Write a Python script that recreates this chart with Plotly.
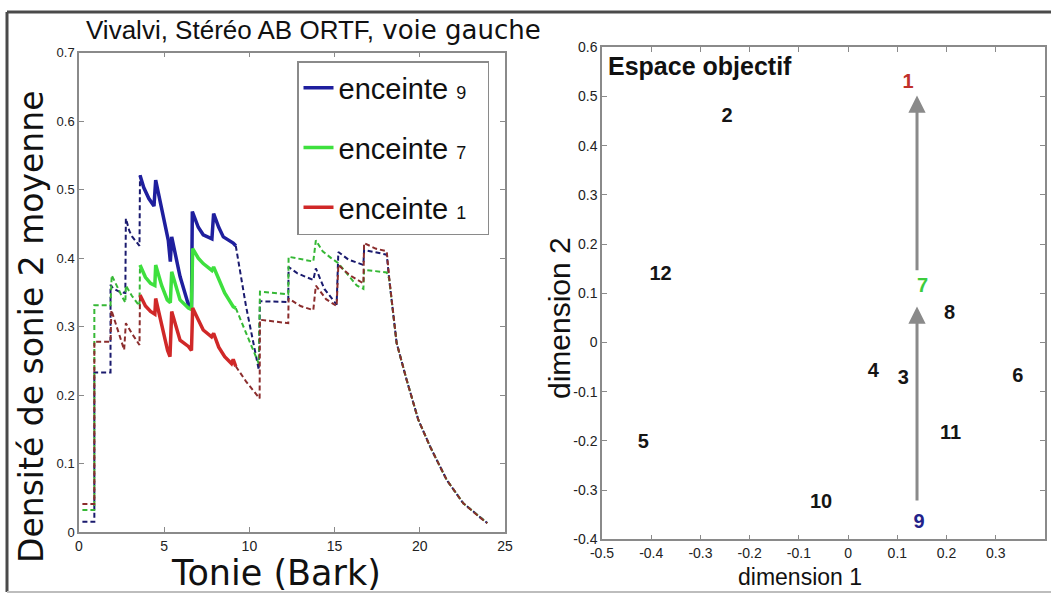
import plotly.graph_objects as go

W, H = 1051, 594

# ---------------- data: left panel (loudness density per Bark) ----------------
SOLID_START = 3.58
SOLID_END = 9.2

blue_x = [0.2, 0.9, 0.9, 1.85, 1.85, 2.0, 2.35, 2.72, 2.75, 2.95, 3.1, 3.3, 3.55, 3.58,
          3.8, 4.1, 4.4, 4.5, 4.85, 5.24, 5.36, 5.44, 5.93, 6.42, 6.6, 6.65, 7.0, 7.29, 7.8, 7.9,
          8.2, 8.47, 9.05, 9.2,
          9.8, 10.55, 10.62, 12.28, 12.3, 12.8, 13.75, 13.9, 14.4, 15.12, 15.22, 15.8, 16.69,
          16.73, 17.4, 18.06, 18.2, 18.64, 19.23, 19.91, 20.6, 21.58, 22.55, 23.83, 23.96]
blue_y = [0.015, 0.015, 0.233, 0.233, 0.361, 0.356, 0.351, 0.349, 0.458, 0.44, 0.432, 0.425, 0.418, 0.521,
          0.503, 0.487, 0.476, 0.514, 0.47, 0.426, 0.395, 0.431, 0.373, 0.332, 0.326, 0.468, 0.445, 0.434, 0.428, 0.465,
          0.445, 0.431, 0.422, 0.418,
          0.33, 0.237, 0.337, 0.336, 0.387, 0.378, 0.368, 0.385, 0.355, 0.332, 0.409, 0.398, 0.39,
          0.412, 0.408, 0.405, 0.37, 0.276, 0.222, 0.164, 0.125, 0.076, 0.042, 0.015, 0.013]

green_x = [0.2, 0.9, 0.9, 1.85, 1.92, 2.2, 2.5, 2.72, 2.75, 3.1, 3.55, 3.58,
           3.9, 4.2, 4.45, 4.5, 4.85, 5.18, 5.36, 5.44, 5.93, 6.42, 6.6, 6.67, 7.0, 7.29, 7.8, 7.9,
           8.2, 8.55, 9.05, 9.2,
           9.8, 10.55, 10.62, 12.28, 12.3, 13.75, 13.9, 14.3, 14.8, 15.2, 15.7, 16.3, 16.69, 16.73,
           17.4, 18.06, 18.2, 18.64, 19.23, 19.91, 20.6, 21.58, 22.55, 23.83, 23.96]
green_y = [0.032, 0.032, 0.331, 0.331, 0.375, 0.36, 0.345, 0.335, 0.36, 0.345, 0.33, 0.39,
           0.372, 0.363, 0.36, 0.39, 0.36, 0.339, 0.335, 0.38, 0.339, 0.327, 0.325, 0.414, 0.40, 0.392, 0.382, 0.387,
           0.37, 0.349, 0.329, 0.327,
           0.29, 0.246, 0.351, 0.347, 0.402, 0.395, 0.426, 0.41, 0.40, 0.393, 0.378, 0.36, 0.355, 0.383,
           0.381, 0.379, 0.37, 0.276, 0.222, 0.164, 0.125, 0.076, 0.042, 0.015, 0.013]

red_x = [0.2, 0.9, 0.9, 1.85, 1.9, 2.2, 2.65, 2.75, 3.1, 3.55, 3.58,
         3.9, 4.2, 4.45, 4.5, 4.85, 5.2, 5.34, 5.44, 5.93, 6.42, 6.6, 6.67, 7.0, 7.29, 7.78, 7.9,
         8.2, 8.55, 8.95, 9.05, 9.2,
         9.8, 10.6, 10.62, 12.28, 12.3, 13.0, 13.75, 13.9, 14.5, 15.12, 15.22, 15.9, 16.69, 16.73,
         17.4, 18.06, 18.2, 18.64, 19.23, 19.91, 20.6, 21.58, 22.55, 23.83, 23.96]
red_y = [0.041, 0.041, 0.278, 0.278, 0.324, 0.30, 0.266, 0.305, 0.29, 0.273, 0.346,
         0.33, 0.322, 0.318, 0.341, 0.3, 0.265, 0.256, 0.322, 0.28, 0.271, 0.265, 0.327, 0.31, 0.295, 0.285, 0.29,
         0.27, 0.256, 0.246, 0.252, 0.242,
         0.22, 0.195, 0.31, 0.305, 0.341, 0.33, 0.324, 0.36, 0.34, 0.33, 0.39, 0.375, 0.363, 0.422,
         0.414, 0.41, 0.372, 0.276, 0.222, 0.164, 0.125, 0.076, 0.042, 0.015, 0.013]

series_names = ["9", "7", "1"]
left_xticks = [0, 5, 10, 15, 20, 25]
left_yticks = [0, 0.1, 0.2, 0.3, 0.4, 0.5, 0.6, 0.7]

# ---------------- data: right panel (objective space) ----------------
pt_labels = ["1", "2", "12", "7", "8", "4", "3", "6", "11", "5", "10", "9"]
pt_x = [0.122, -0.246, -0.381, 0.151, 0.206, 0.051, 0.112, 0.345, 0.208, -0.416, -0.055, 0.144]
pt_y = [0.528, 0.458, 0.137, 0.112, 0.058, -0.059, -0.075, -0.071, -0.186, -0.205, -0.327, -0.367]
arrow_x = [0.14, 0.14]
arrow_y_from = [-0.324, 0.144]
arrow_y_to = [0.073, 0.502]
right_xticks = [-0.5, -0.4, -0.3, -0.2, -0.1, 0, 0.1, 0.2, 0.3, 0.4]
right_yticks = [-0.4, -0.3, -0.2, -0.1, 0, 0.1, 0.2, 0.3, 0.4, 0.5, 0.6]

# ---------------- styling ----------------
SANS = "Liberation Sans, Arial, sans-serif"
WIDE = "DejaVu Sans, Verdana, sans-serif"
solid_cols = ["#1f1f9e", "#3ee03e", "#d02828"]
dash_cols = ["#1a1a6e", "#36b836", "#8b2d2d"]
pt_cols = {"1": "#c0302a", "7": "#3ccc3c", "9": "#22228a"}


def px_x(p):
    return p / W


def px_y(p):
    return 1 - p / H


def split(xs, ys):
    pre = [(x, y) for x, y in zip(xs, ys) if x <= SOLID_START]
    mid = [(x, y) for x, y in zip(xs, ys) if SOLID_START <= x <= SOLID_END]
    post = [(x, y) for x, y in zip(xs, ys) if x >= SOLID_END]
    return pre, mid, post


fig = go.Figure()

all_series = [(blue_x, blue_y), (green_x, green_y), (red_x, red_y)]
for i, (xs, ys) in enumerate(all_series):
    pre, mid, post = split(xs, ys)
    for seg in (pre, post):
        fig.add_trace(go.Scatter(
            x=[p[0] for p in seg], y=[p[1] for p in seg], mode="lines",
            line=dict(color=dash_cols[i], width=2, dash="5px,3px"),
            showlegend=False, legendgroup="g" + series_names[i], hoverinfo="skip",
            xaxis="x", yaxis="y"))
for i, (xs, ys) in enumerate(all_series):
    pre, mid, post = split(xs, ys)
    fig.add_trace(go.Scatter(
        x=[p[0] for p in mid], y=[p[1] for p in mid], mode="lines",
        line=dict(color=solid_cols[i], width=3.5),
        name='enceinte <span style="font-size:18px">' + series_names[i] + "</span>\u00a0\u00a0",
        legendgroup="g" + series_names[i], showlegend=True,
        xaxis="x", yaxis="y"))

# right panel text labels
fig.add_trace(go.Scatter(
    x=pt_x, y=pt_y, text=pt_labels, mode="text",
    textfont=dict(family=SANS, size=20, color=[pt_cols.get(t, "#151515") for t in pt_labels],
                  weight="bold"),
    showlegend=False, hoverinfo="skip", xaxis="x2", yaxis="y2"))

annotations = []
for xa, y0, y1 in zip(arrow_x, arrow_y_from, arrow_y_to):
    annotations.append(dict(
        x=xa, y=y1, ax=xa, ay=y0, xref="x2", yref="y2", axref="x2", ayref="y2",
        text="", showarrow=True, arrowhead=2, arrowsize=1.15, arrowwidth=3,
        arrowcolor="#8a8a8a", standoff=0, startstandoff=0))

annotations += [
    dict(text="Espace objectif", x=-0.492, y=0.562, xref="x2", yref="y2",
         xanchor="left", yanchor="middle", showarrow=False,
         font=dict(family=SANS, size=25, color="#111", weight="bold")),
    dict(text='Vivalvi, Stéréo AB ORTF,<span style="font-family:DejaVu Sans, sans-serif"> voie gauche</span>',
         x=px_x(313), y=px_y(30), xref="paper", yref="paper", xanchor="center", yanchor="middle",
         showarrow=False, font=dict(family=SANS, size=26, color="#111")),
    dict(text="Densité de sonie 2 moyenne", x=px_x(31), y=px_y(327), xref="paper", yref="paper",
         textangle=-90, xanchor="center", yanchor="middle", showarrow=False,
         font=dict(family=WIDE, size=33, color="#111")),
    dict(text="Tonie (Bark)", x=px_x(276), y=px_y(573), xref="paper", yref="paper",
         xanchor="center", yanchor="middle", showarrow=False,
         font=dict(family=WIDE, size=35, color="#111")),
    dict(text="dimension 2", x=px_x(559), y=px_y(318), xref="paper", yref="paper",
         textangle=-90, xanchor="center", yanchor="middle", showarrow=False,
         font=dict(family=SANS, size=30, color="#111")),
    dict(text="dimension 1", x=px_x(800), y=px_y(577), xref="paper", yref="paper",
         xanchor="center", yanchor="middle", showarrow=False,
         font=dict(family=SANS, size=23, color="#111")),
]

axis_common = dict(showgrid=False, zeroline=False, ticks="inside", ticklen=5, tickwidth=1,
                   tickcolor="#8a8a8a", showline=True, linecolor="#8a8a8a", linewidth=1.5,
                   mirror="ticks")

fig.update_layout(
    width=W, height=H,
    margin=dict(l=0, r=0, t=0, b=0, autoexpand=False),
    paper_bgcolor="white", plot_bgcolor="white",
    xaxis=dict(domain=[px_x(79), px_x(505)], range=[0, 25], tickvals=left_xticks,
               ticktext=[str(v) for v in left_xticks], anchor="y",
               tickfont=dict(family=SANS, size=14, color="#222"), **axis_common),
    yaxis=dict(domain=[px_y(532), px_y(52.7)], range=[0, 0.7], tickvals=left_yticks,
               ticktext=[("%g" % v) for v in left_yticks], anchor="x",
               tickfont=dict(family=SANS, size=13, color="#222"), **axis_common),
    xaxis2=dict(domain=[px_x(602), px_x(1045)], range=[-0.5, 0.4], tickvals=right_xticks,
                ticktext=[("%g" % v) for v in right_xticks], anchor="y2",
                tickfont=dict(family=SANS, size=14, color="#222"), **axis_common),
    yaxis2=dict(domain=[px_y(539.3), px_y(47.3)], range=[-0.4, 0.6], tickvals=right_yticks,
                ticktext=[("%g" % v) for v in right_yticks], anchor="x2",
                tickfont=dict(family=SANS, size=14, color="#222"), **axis_common),
    legend=dict(x=px_x(297), y=px_y(61), xanchor="left", yanchor="top",
                bordercolor="#8a8a8a", borderwidth=1.5, bgcolor="white",
                font=dict(family=SANS, size=29, color="#111"),
                tracegroupgap=19, traceorder="grouped", itemwidth=30),
    annotations=annotations,
    shapes=[
        dict(type="line", xref="paper", yref="paper", x0=px_x(7), x1=1.0,
             y0=px_y(12), y1=px_y(12), line=dict(color="#4a4a4a", width=3), layer="above"),
        dict(type="line", xref="paper", yref="paper", x0=px_x(7), x1=px_x(7),
             y0=px_y(12), y1=px_y(592), line=dict(color="#4a4a4a", width=3), layer="above"),
        dict(type="line", xref="paper", yref="paper", x0=px_x(7), x1=1.0,
             y0=px_y(592), y1=px_y(592), line=dict(color="#bdbdbd", width=2), layer="above"),
    ],
)

fig.write_html("out.html", config={"displayModeBar": False},
               post_script="document.body.style.margin='0';document.body.style.padding='0';")
